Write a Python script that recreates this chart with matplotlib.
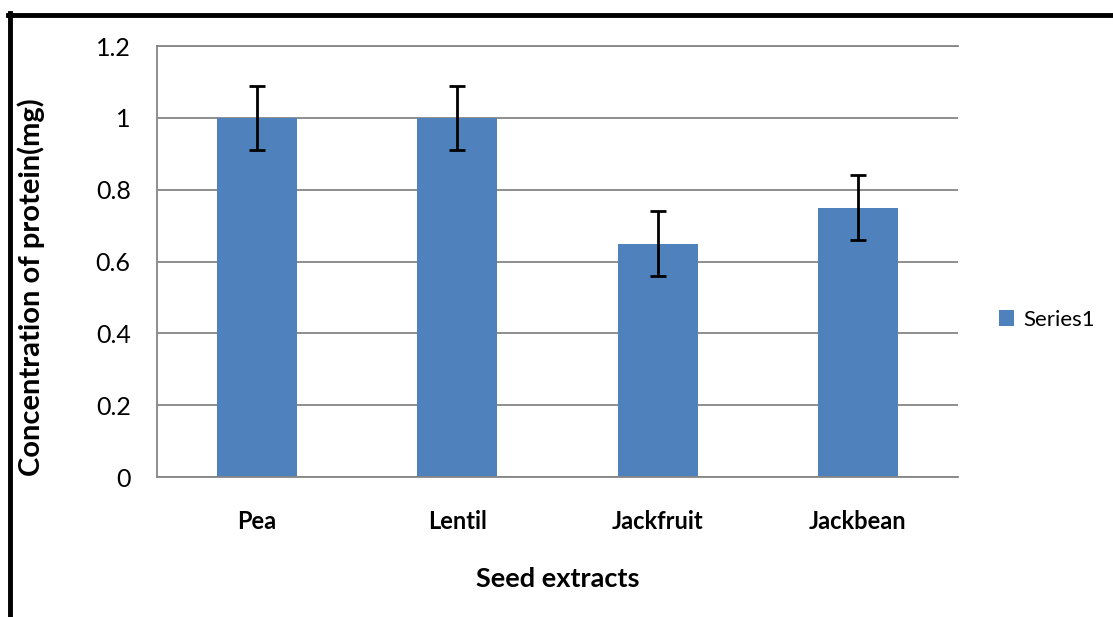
import numpy as np
import matplotlib.pyplot as plt
from matplotlib.lines import Line2D

plt.rcParams['font.family'] = ['Lato', 'DejaVu Sans']

extracts = ['Pea', 'Lentil', 'Jackfruit', 'Jackbean']
protein = [1.0, 1.0, 0.65, 0.75]
errors = [0.09, 0.09, 0.09, 0.09]

fig = plt.figure(figsize=(11.13, 6.17), dpi=100)
ax = fig.add_axes([0.1411, 0.2269, 0.7196, 0.6985])

x = np.arange(len(extracts))
ax.bar(x, protein, width=0.4, color='#4f81bd', label='Series1', zorder=2)
ax.errorbar(x, protein, yerr=errors, fmt='none', ecolor='black',
            elinewidth=2, capsize=6, capthick=2, zorder=3)

ax.set_xlim(-0.5, 3.5)
ax.set_ylim(0, 1.2)
ax.set_yticks(np.arange(0, 1.21, 0.2))
ax.set_yticklabels(['0', '0.2', '0.4', '0.6', '0.8', '1', '1.2'], fontsize=18)
ax.set_xticks(x)
ax.set_xticklabels(extracts, fontsize=17, fontweight='bold')
ax.tick_params(axis='both', length=0)
ax.tick_params(axis='y', pad=19)
ax.tick_params(axis='x', pad=24)
ax.grid(axis='y', color='#868686', linewidth=1.3, zorder=0)
for s in ['left', 'bottom', 'top']:
    ax.spines[s].set_color('#868686')
    ax.spines[s].set_linewidth(1.3)
ax.spines['right'].set_visible(False)

ax.set_xlabel('Seed extracts', fontsize=19.5, fontweight='bold', labelpad=24)
ax.set_ylabel('Concentration of protein(mg)', fontsize=21, fontweight='bold')
ax.yaxis.set_label_coords(-0.14, 0.44)

ax.legend(loc='center left', bbox_to_anchor=(990 / 1113, 1 - 320 / 617),
          bbox_transform=fig.transFigure, frameon=False, borderaxespad=0,
          fontsize=16, handlelength=0.7, handleheight=0.7, handletextpad=0.4)

# black frame on the top and left edges
fig.add_artist(Line2D([8 / 1113, 1], [1 - 15 / 617, 1 - 15 / 617], color='black', linewidth=3.5))
fig.add_artist(Line2D([10 / 1113, 10 / 1113], [0, 1 - 13 / 617], color='black', linewidth=3.5))

fig.savefig('out.png', dpi=100)
